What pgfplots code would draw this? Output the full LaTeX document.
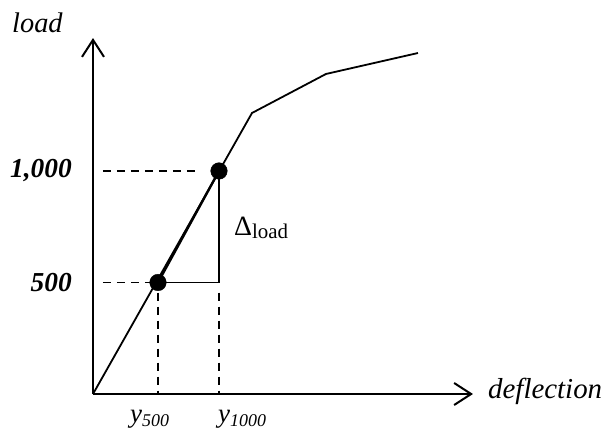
\documentclass[border=0pt]{standalone}
\usepackage{pgfplots}
\pgfplotsset{compat=1.18}
\usepackage{fontspec}
\setmainfont{Liberation Serif}
\usetikzlibrary{arrows.meta}
\begin{document}
\begin{tikzpicture}
\useasboundingbox (-93bp,-35bp) rectangle (512bp,394bp);
\begin{axis}[
  x=1bp, y=0.22302bp,
  xmin=0, xmax=380, ymin=0, ymax=1596,
  enlargelimits=false,
  axis lines=left,
  x axis line style={line width=2bp, -{Straight Barb[length=17bp,width=22bp,line width=2bp]}},
  y axis line style={line width=2bp, -{Straight Barb[length=17bp,width=22bp,line width=2bp]}},
  xtick=\empty,
  ytick={500,1000},
  yticklabels={\textbf{\textit{500}},\textbf{\textit{1,000}}},
  yticklabel style={font=\fontsize{27.5}{30}\selectfont, anchor=east, inner sep=0pt, xshift=-21bp},
  major tick length=0pt,
  clip=false,
]
% dashed guide lines
\addplot[black, line width=1.5bp, dash pattern=on 8bp off 6bp] coordinates {(10,1000)(102,1000)};
\addplot[black, line width=1.5bp, dash pattern=on 8bp off 6bp] coordinates {(10,500)(58,500)};
\addplot[black, line width=1.5bp, dash pattern=on 8bp off 6bp] coordinates {(65,455)(65,0)};
\addplot[black, line width=1.5bp, dash pattern=on 8bp off 6bp] coordinates {(126,455)(126,0)};
% load-deflection curve
\addplot[black, line width=1.8bp] coordinates {(0,0)(159,1260)(233,1435)(325,1529)};
% secant
\addplot[black, line width=2.4bp] coordinates {(65,500)(126,1000)};
% triangle
\addplot[black, line width=1.8bp] coordinates {(65,500)(126,500)(126,1000)};
% points
\addplot[black, only marks, mark=*, mark size=8.3bp] coordinates {(65,500)(126,1000)};
% labels
\node[anchor=base west, inner sep=0pt, font=\fontsize{28.5}{30}\selectfont\itshape] at (axis cs:-81,1623) {load};
\node[anchor=base west, inner sep=0pt, font=\fontsize{29}{30}\selectfont\itshape] at (axis cs:395,-18) {deflection};
\node[anchor=base west, inner sep=0pt, font=\fontsize{28}{30}\selectfont] at (axis cs:141,712) {Δ\raisebox{-3bp}{\fontsize{21}{22}\selectfont load}};
\node[anchor=base west, inner sep=0pt, font=\fontsize{27}{28}\selectfont\itshape] at (axis cs:37,-126) {y\raisebox{-4bp}{\fontsize{18}{19}\selectfont 500}};
\node[anchor=base west, inner sep=0pt, font=\fontsize{27}{28}\selectfont\itshape] at (axis cs:125,-126) {y\raisebox{-4bp}{\fontsize{18}{19}\selectfont 1000}};
\end{axis}
\end{tikzpicture}
\end{document}
